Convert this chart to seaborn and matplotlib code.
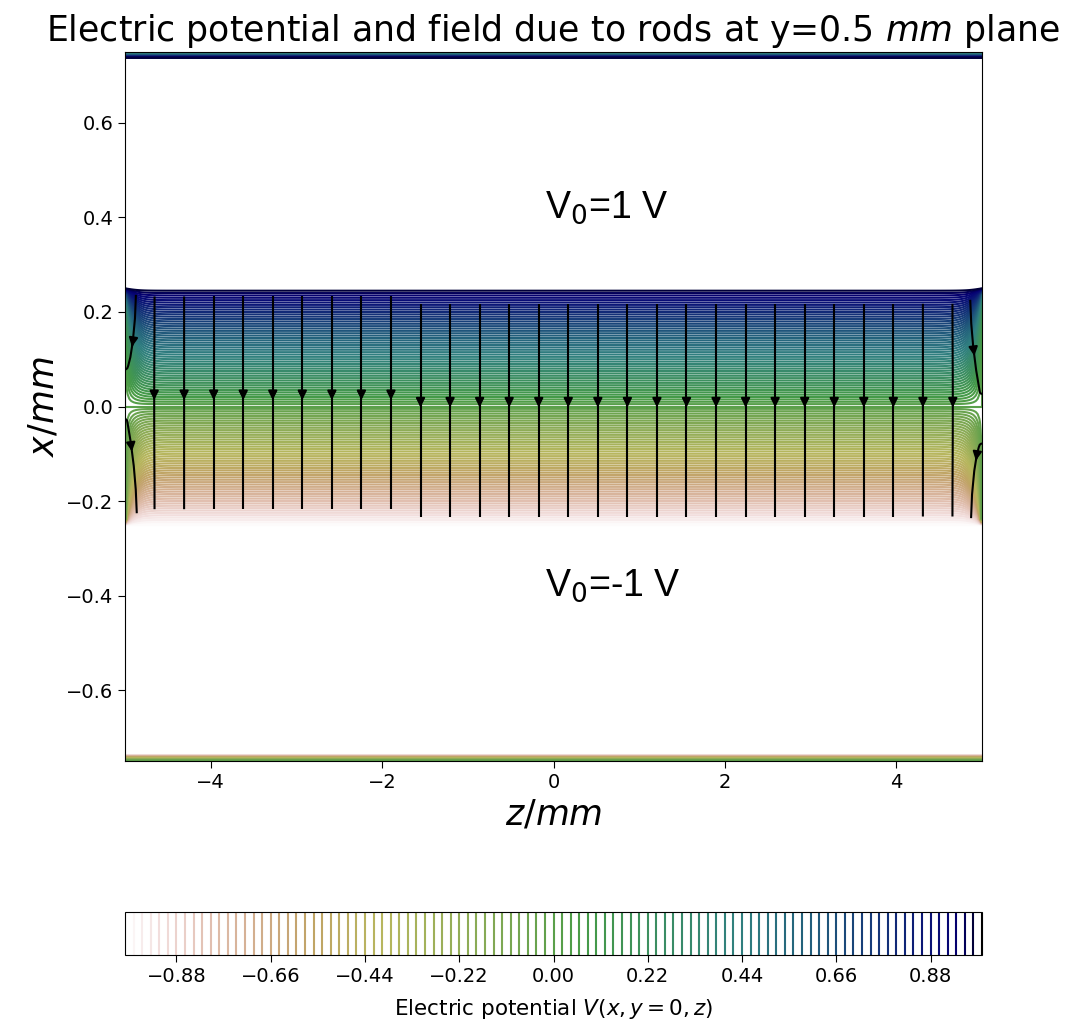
import numpy as np
import matplotlib
matplotlib.use("Agg")
import matplotlib.pyplot as plt
import seaborn as sns

# Geometry of the cross-section (mm) and electrode potentials (V)
z_limits = [-5.0, 5.0]
x_limits = [-0.75, 0.75]
plate_edges = [-0.25, 0.25]        # inner faces of the lower / upper electrodes
plate_potentials = [-1.0, 1.0]     # lower / upper electrode
boundary_potential = 0.0           # outer box of the domain
n_z, n_x = 401, 121                # grid nodes (0.025 mm along z, 0.0125 mm along x)
n_levels = 101                     # equipotential lines between -1 V and 1 V
x_ticks = [-0.6, -0.4, -0.2, 0.0, 0.2, 0.4, 0.6]
z_ticks = [-4, -2, 0, 2, 4]
plate_labels = ["V$_0$=1 V", "V$_0$=-1 V"]
plate_label_z = [-0.1, -0.1]
plate_label_x = [0.4, -0.4]

sns.set_style("ticks", {"axes.edgecolor": "black", "text.color": "black",
                        "axes.labelcolor": "black", "xtick.color": "black",
                        "ytick.color": "black"})
plt.rcParams["font.family"] = ["DejaVu Sans"]

# --- Laplace solution on the (z, x) grid -----------------------------------
z = np.linspace(z_limits[0], z_limits[1], n_z)
x = np.linspace(x_limits[0], x_limits[1], n_x)
Z, X = np.meshgrid(z, x)
dz = z[1] - z[0]
dx = x[1] - x[0]

eps = 1e-9
upper = X >= plate_edges[1] - eps
lower = X <= plate_edges[0] + eps
fixed = upper | lower
fixed[0, :] = True
fixed[-1, :] = True
fixed[:, 0] = True
fixed[:, -1] = True

V_fixed = np.full_like(Z, boundary_potential)
V_fixed[upper] = plate_potentials[1]
V_fixed[lower] = plate_potentials[0]
V_fixed[0, :] = boundary_potential
V_fixed[-1, :] = boundary_potential

# Jacobi relaxation with the anisotropic 5-point Laplacian
wx = 1.0 / dx**2
wz = 1.0 / dz**2
norm = 2 * wx + 2 * wz
V = np.where(fixed, V_fixed, X / plate_edges[1])
for _ in range(6000):
    V_new = (wx * (np.roll(V, 1, 0) + np.roll(V, -1, 0))
             + wz * (np.roll(V, 1, 1) + np.roll(V, -1, 1))) / norm
    V = np.where(fixed, V_fixed, V_new)

# Electric field E = -grad V, kept inside the gap between the electrodes
dV_dx, dV_dz = np.gradient(V, x, z)
gap = (X > plate_edges[0] + eps) & (X < plate_edges[1] - eps)
E_x = np.where(gap, -dV_dx, 0.0)
E_z = np.where(gap, -dV_dz, 0.0)

# --- Figure -----------------------------------------------------------------
fig = plt.figure(figsize=(10.71, 10.28), dpi=100)
ax = fig.add_axes([125 / 1071, 1 - 761 / 1028, 857 / 1071, 709 / 1028])
cax = fig.add_axes([125 / 1071, 1 - 955 / 1028, 857 / 1071, 43 / 1028])

cmap = sns.color_palette("gist_earth_r", as_cmap=True)
levels = np.linspace(plate_potentials[0], plate_potentials[1], n_levels)
cs = ax.contour(Z, X, V, levels=levels, cmap=cmap, linewidths=1.5)
ax.streamplot(z, x, E_z, E_x, color="black", density=1.0,
              linewidth=1.5, arrowsize=1.3)

for label, lz, lx in zip(plate_labels, plate_label_z, plate_label_x):
    ax.text(lz, lx, label, fontsize=27, family=["Liberation Sans", "DejaVu Sans"])

ax.set_xlim(z_limits)
ax.set_ylim(x_limits)
ax.set_xticks(z_ticks)
ax.set_yticks(x_ticks)
ax.tick_params(labelsize=14, length=5)
ax.set_xlabel("$z/mm$", fontsize=25)
ax.set_ylabel("$x/mm$", fontsize=25)
ax.set_title("Electric potential and field due to rods at y=0.5 $mm$ plane",
             fontsize=25, pad=8)

cb = fig.colorbar(cs, cax=cax, orientation="horizontal")
cb.set_label("Electric potential $V(x,y=0,z)$", fontsize=15.5, labelpad=8)
cb.ax.tick_params(labelsize=14, length=5)

fig.savefig("out.png", dpi=100)
